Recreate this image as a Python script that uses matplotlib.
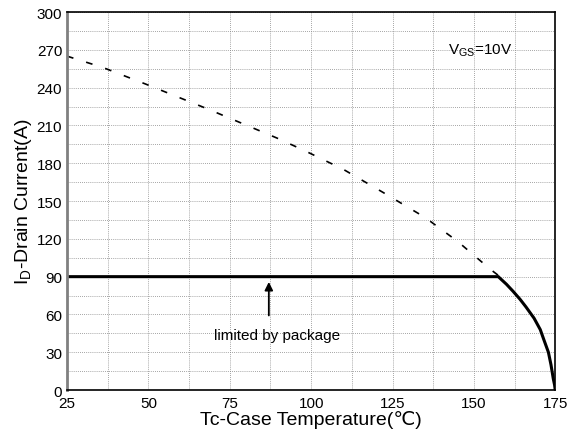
import matplotlib
matplotlib.use("Agg")
import matplotlib.pyplot as plt
import numpy as np

plt.rcParams['font.family'] = ['Liberation Sans', 'DejaVu Sans']

# package limit (solid) and silicon limit (dashed)
tc_pkg = [25, 157.5, 160, 162, 164.2, 166, 168.5, 170.4, 171.5, 172.9, 173.7, 174.4, 174.8, 175]
id_pkg = [90, 90, 84, 78.5, 72, 66, 57, 48, 40, 30, 20, 9, 4, 0]

tc_si = [25, 36, 49, 68.3, 89.5, 98, 110, 122, 135, 145, 155, 158]
id_si = [265, 256, 243, 223, 200, 190, 175, 157, 137, 118, 96, 90]

xticks = [25, 50, 75, 100, 125, 150, 175]
yticks = [0, 30, 60, 90, 120, 150, 180, 210, 240, 270, 300]

fig, ax = plt.subplots(figsize=(5.73, 4.35), dpi=100)
fig.subplots_adjust(left=0.117, right=0.969, top=0.97, bottom=0.101)

ax.plot(tc_si, id_si, color='black', lw=1.2, dashes=(4, 8))
ax.plot(tc_pkg, id_pkg, color='black', lw=2.2, solid_joinstyle='miter')

ax.annotate('', xy=(87, 88), xytext=(87, 57),
            arrowprops=dict(arrowstyle='-|>', color='black', lw=1.3, mutation_scale=12))
ax.text(89.5, 43.5, 'limited by package', ha='center', va='center', fontsize=11)
ax.text(142, 270.5, 'V$_\\mathregular{GS}$=10V', ha='left', va='center', fontsize=11)

ax.set_xlim(25, 175)
ax.set_ylim(0, 300)
ax.set_xticks(xticks)
ax.set_yticks(yticks)
ax.set_xticks(np.arange(37.5, 175, 25), minor=True)
ax.set_yticks(np.arange(15, 300, 30), minor=True)
ax.grid(True, which='both', color='#888888', ls=(0, (1, 1.5)), lw=0.6)
ax.tick_params(which='both', length=0, labelsize=11)
ax.tick_params(axis='x', pad=4)

for s in ['top', 'right', 'bottom']:
    ax.spines[s].set_linewidth(1.2)
ax.spines['left'].set_color('#808080')
ax.spines['left'].set_linewidth(2)

ax.set_xlabel('Tc-Case Temperature(\u2103)', fontsize=14, labelpad=0)
ax.set_ylabel('I$_\\mathregular{D}$-Drain Current(A)', fontsize=14, labelpad=2)

fig.savefig('out.png', dpi=100)
